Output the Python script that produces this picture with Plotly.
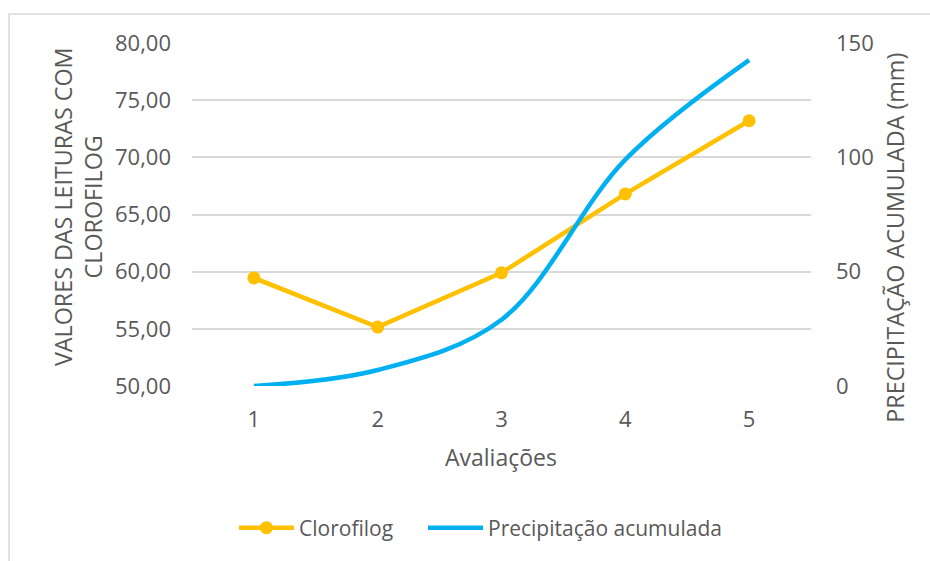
import plotly.graph_objects as go

avaliacoes = [1, 2, 3, 4, 5]
clorofilog = [59.45, 55.15, 59.9, 66.8, 73.2]
precipitacao = [0, 7, 29, 99, 142.5]
left_ticks = [50, 55, 60, 65, 70, 75, 80]
right_ticks = [0, 50, 100, 150]

FONT = "Open Sans"
GRAY = "#595959"
FS_TICK = 22
FS_TITLE = 23.3
FS_LEG = 21

fig = go.Figure()
fig.add_trace(go.Scatter(
    x=avaliacoes, y=clorofilog, name="Clorofilog", mode="lines+markers",
    line=dict(color="#FFC000", width=4.5),
    marker=dict(color="#FFC000", size=13),
    yaxis="y", legend="legend"))
fig.add_trace(go.Scatter(
    x=avaliacoes, y=precipitacao, name="Precipitação acumulada", mode="lines",
    line=dict(color="#00B0F0", width=4.5, shape="spline", smoothing=1),
    yaxis="y2", legend="legend2"))

leg_common = dict(orientation="h", xanchor="left", yanchor="middle",
                  y=(386 - 528) / 343, bgcolor="rgba(0,0,0,0)", itemwidth=55,
                  font=dict(family=FONT, size=FS_LEG, color=GRAY))

fig.update_layout(
    width=930, height=561,
    margin=dict(l=192, r=119, t=43, b=175),
    paper_bgcolor="white", plot_bgcolor="white",
    font=dict(family=FONT, size=FS_TICK, color=GRAY),
    showlegend=True,
    legend=dict(x=(234 - 192) / 619, **leg_common),
    legend2=dict(x=(423 - 192) / 619, **leg_common),
    xaxis=dict(range=[0.5, 5.5], tickvals=avaliacoes, ticktext=[str(v) for v in avaliacoes],
               showgrid=False, zeroline=False, showline=False, ticks="",
               ticklabelstandoff=18, tickfont=dict(size=FS_TICK, color=GRAY)),
    yaxis=dict(range=[50, 80], tickvals=left_ticks,
               ticktext=[f"{v:.2f}".replace(".", ",") for v in left_ticks],
               showgrid=True, gridcolor="#d9d9d9", gridwidth=1.5, zeroline=False,
               showline=False, ticks="", ticklabelstandoff=20,
               tickfont=dict(size=FS_TICK, color=GRAY)),
    yaxis2=dict(range=[0, 150], tickvals=right_ticks, overlaying="y", side="right",
                showgrid=False, zeroline=False, showline=False, ticks="",
                ticklabelstandoff=24, tickfont=dict(size=FS_TICK, color=GRAY)),
    annotations=[
        dict(text="VALORES DAS LEITURAS COM<br>CLOROFILOG", xref="paper", yref="paper",
             x=-0.185, y=0.523, xanchor="center", yanchor="middle", textangle=-90,
             showarrow=False, font=dict(family=FONT, size=FS_TITLE, color=GRAY)),
        dict(text="PRECIPITAÇÃO ACUMULADA (mm)", xref="paper", yref="paper",
             x=1.136, y=0.433, xanchor="center", yanchor="middle", textangle=-90,
             showarrow=False, font=dict(family=FONT, size=FS_TITLE, color=GRAY)),
        dict(text="Avaliações", xref="paper", yref="paper",
             x=(501 - 192) / 619, y=-0.207, xanchor="center", yanchor="middle",
             showarrow=False, font=dict(family=FONT, size=23, color=GRAY)),
    ],
    shapes=[dict(type="rect", xref="paper", yref="paper", x0=-0.2956, y0=-0.6,
                 x1=1.25, y1=1.0845, line=dict(color="#d9d9d9", width=1.5),
                 layer="below")],
)

fig.write_html("out.html")
